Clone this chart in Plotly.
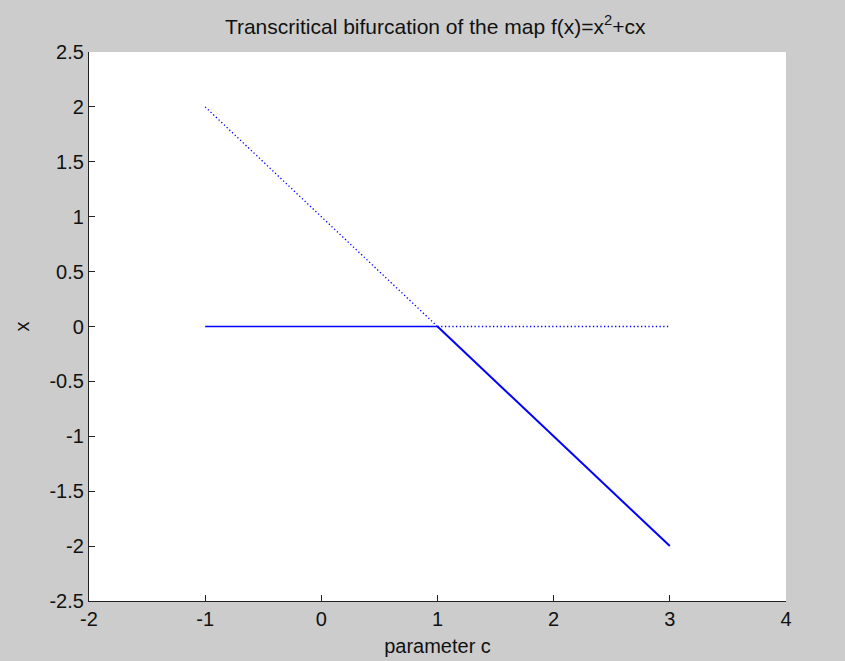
import plotly.graph_objects as go

# Fixed-point branches of f(x) = x^2 + c x
c_stable_zero = [-1, 1]
x_stable_zero = [0, 0]
c_stable_line = [1, 3]
x_stable_line = [0, -2]
c_unstable_line = [-1, 1]
x_unstable_line = [2, 0]
c_unstable_zero = [1, 3]
x_unstable_zero = [0, 0]

x_ticks = [-2, -1, 0, 1, 2, 3, 4]
y_ticks = [-2.5, -2, -1.5, -1, -0.5, 0, 0.5, 1, 1.5, 2, 2.5]

blue = "rgb(0,0,255)"
fig = go.Figure()
fig.add_trace(go.Scatter(x=c_stable_zero, y=x_stable_zero, mode="lines",
                         line=dict(color=blue, width=1.6)))
fig.add_trace(go.Scatter(x=c_stable_line, y=x_stable_line, mode="lines",
                         line=dict(color=blue, width=2)))
fig.add_trace(go.Scatter(x=c_unstable_line, y=x_unstable_line, mode="lines",
                         line=dict(color=blue, width=1.3, dash="1.3px,2.4px")))
fig.add_trace(go.Scatter(x=c_unstable_zero, y=x_unstable_zero, mode="lines",
                         line=dict(color=blue, width=1.3, dash="1.3px,2.4px")))

font = dict(family="Liberation Sans, Arial, sans-serif", size=20, color="#111111")
fig.update_layout(
    width=845, height=661,
    margin=dict(l=89, r=59, t=52, b=60),
    paper_bgcolor="#cccccc",
    plot_bgcolor="white",
    showlegend=False,
    font=font,
    title=dict(text="Transcritical bifurcation of the map f(x)=x<sup>2</sup>+cx",
               x=0.515, xanchor="center", y=0.96, yanchor="middle",
               font=dict(size=21)),
)
fig.update_xaxes(range=[-2, 4], tickvals=x_ticks, ticktext=[str(v) for v in x_ticks],
                 automargin=False,
                 showgrid=False, zeroline=False, showline=True, linecolor="#222222",
                 linewidth=1.3, ticks="inside", ticklen=6, tickcolor="#222222",
                 title=dict(text="parameter c", standoff=9, font=dict(size=20)))
fig.update_yaxes(range=[-2.5, 2.5], tickvals=y_ticks,
                 ticktext=[("%g" % v) for v in y_ticks],
                 automargin=False,
                 showgrid=False, zeroline=False, showline=True, linecolor="#222222",
                 linewidth=1.3, ticks="inside", ticklen=6, tickcolor="#222222",
                 title=dict(text="x", standoff=14, font=dict(size=20)))
fig.write_html("out.html")
